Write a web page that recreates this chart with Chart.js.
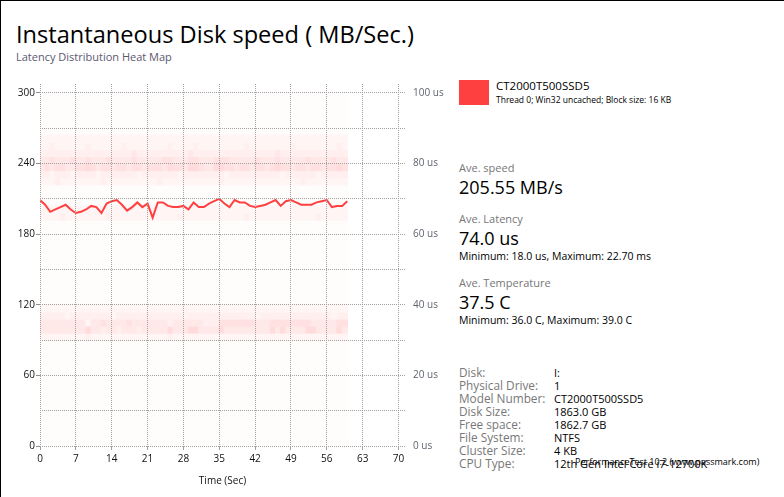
<!DOCTYPE html>
<html>
<head>
<meta charset="utf-8">
<script src="https://cdn.jsdelivr.net/npm/chart.js@4.4.0/dist/chart.umd.min.js"></script>
<style>
body { margin: 0; width: 784px; height: 497px; background: #fff; position: relative; overflow: hidden; font-family: "Open Sans", sans-serif; color: #000; }
#frame { position: absolute; left: 0; top: 0; width: 784px; height: 497px; border-left: 1px solid #000; border-top: 1px solid #000; box-sizing: border-box; }
#box { position: absolute; left: 0; top: 70px; width: 460px; height: 427px; }
.t { position: absolute; white-space: nowrap; line-height: 1; }
.lbl { color: #777; font-size: 11px; }
.big { font-size: 18px; }
.small { font-size: 10.5px; }
.k { color: #777; font-size: 11.8px; left: 459px; }
.v { color: #000; font-size: 11px; left: 554px; }
</style>
</head>
<body>
<div id="frame"></div>
<div class="t" style="left:16px;top:23px;font-size:23.6px;">Instantaneous Disk speed ( MB/Sec.)</div>
<div class="t" style="left:16px;top:51px;font-size:11px;color:#5c5870;">Latency Distribution Heat Map</div>

<div style="position:absolute;left:459px;top:80px;width:30px;height:25px;background:#ff4040;"></div>
<div class="t" style="left:496px;top:80px;font-size:11.5px;">CT2000T500SSD5</div>
<div class="t" style="left:496px;top:96px;font-size:8.5px;">Thread 0; Win32 uncached; Block size: 16 KB</div>

<div class="t lbl" style="left:459px;top:162px;">Ave. speed</div>
<div class="t big" style="left:459px;top:178px;">205.55 MB/s</div>
<div class="t lbl" style="left:459px;top:213px;">Ave. Latency</div>
<div class="t big" style="left:459px;top:229px;">74.0 us</div>
<div class="t small" style="left:459px;top:251px;">Minimum: 18.0 us, Maximum: 22.70 ms</div>
<div class="t lbl" style="left:459px;top:277px;">Ave. Temperature</div>
<div class="t big" style="left:459px;top:293px;">37.5 C</div>
<div class="t small" style="left:459px;top:315px;">Minimum: 36.0 C, Maximum: 39.0 C</div>

<div class="t k" style="top:367px;">Disk:</div><div class="t v" style="top:367px;">I:</div>
<div class="t k" style="top:380px;">Physical Drive:</div><div class="t v" style="top:380px;">1</div>
<div class="t k" style="top:393px;">Model Number:</div><div class="t v" style="top:393px;">CT2000T500SSD5</div>
<div class="t k" style="top:406px;">Disk Size:</div><div class="t v" style="top:406px;">1863.0 GB</div>
<div class="t k" style="top:419px;">Free space:</div><div class="t v" style="top:419px;">1862.7 GB</div>
<div class="t k" style="top:432px;">File System:</div><div class="t v" style="top:432px;">NTFS</div>
<div class="t k" style="top:445px;">Cluster Size:</div><div class="t v" style="top:445px;">4 KB</div>
<div class="t k" style="top:458px;">CPU Type:</div><div class="t v" style="top:458px;">12th Gen Intel Core i7-12700K</div>
<div class="t" style="left:575px;top:457px;font-size:9px;">PerformanceTest 10.2 (www.passmark.com)</div>

<div id="box"><canvas id="chart"></canvas></div>

<script>
// time axis (sec) and measured speed (MB/s)
const seconds = [0,1,2,3,4,5,6,7,8,9,10,11,12,13,14,15,16,17,18,19,20,21,22,23,24,25,26,27,28,29,30,
                 31,32,33,34,35,36,37,38,39,40,41,42,43,44,45,46,47,48,49,50,51,52,53,54,55,56,57,58,59,60];
const speedMBs = [209,205,199,201,203,205,201,198,199,201,204,203,198,206,208,209,205,200,203,207,203,
                  206,194,207,207,204,203,203,204,201,207,203,203,206,208,210,206,203,209,207,207,
                  204,203,204,205,207,209,204,208,209,207,205,205,205,207,208,209,203,204,204,208];

const xTicks = [0,7,14,21,28,35,42,49,56,63,70];
const speedGrid = [0,30,60,90,120,150,180,210,240,270,300];
const speedTicks = [0,60,120,180,240,300];
const latencyTicks = [0,20,40,60,80,100];

// latency heat map: one column per second, rows are 2 us bins, values = shade level
const heatSeconds = [0,1,2,3,4,5,6,7,8,9,10,11,12,13,14,15,16,17,18,19,20,21,22,23,24,25,26,27,28,29,
                     30,31,32,33,34,35,36,37,38,39,40,41,42,43,44,45,46,47,48,49,50,51,52,53,54,55,56,57,58,59];
const heatBackground = 0.45;
const heat86 = [1,1,1,1,1,1,1,1,1,1,1,1,1,1,1,1,1,1,1,1,1,1,1,1,1,1,1,1,1,1,1,1,1,1,1,1,1,1,1,1,1,1,1,1,1,1,1,1,1,1,1,1,1,1,1,1,1,1,1,1];
const heat84 = [1,1,2,1,1,1,1,1,1,2,1,1,1,1,1,1,2,1,1,1,1,1,1,1,1,2,1,1,1,1,2,1,1,1,1,1,1,1,1,1,2,1,1,1,1,1,1,1,1,2,1,1,1,1,1,1,1,1,2,1];
const heat82 = [2,2,2,2,2,2,2,2,2,2,2,2,2,2,2,2,2,2,3,2,2,2,2,2,2,2,2,2,2,3,2,2,2,2,2,2,2,2,2,2,2,2,2,2,2,2,3,2,2,2,2,2,2,2,2,2,2,2,2,2];
const heat80 = [3,3,4,3,3,3,4,3,3,4,3,3,3,4,3,3,3,3,4,3,3,3,3,3,4,4,3,3,3,4,4,3,3,3,4,4,4,3,3,3,3,3,4,3,3,3,4,3,3,3,3,3,4,3,3,3,3,4,3,3];
const heat78 = [3,4,3,4,4,3,3,4,4,5,4,3,4,4,3,4,4,3,4,4,3,4,4,4,3,5,4,4,3,5,5,4,3,3,5,5,4,4,3,4,4,3,4,4,3,4,5,4,4,3,4,4,3,4,4,3,4,4,5,4];
const heat76 = [2,2,1,2,2,2,1,2,2,2,2,1,2,2,2,2,2,2,2,1,2,2,2,2,2,2,2,1,2,2,2,2,2,2,2,2,1,2,2,2,2,2,2,2,2,2,2,1,2,2,2,2,2,2,1,2,2,2,2,2];
const heat74 = [1,1,1,2,1,1,1,1,1,1,1,1,2,1,1,1,1,1,1,1,1,1,1,2,1,1,1,1,1,1,1,1,1,1,1,2,1,1,1,1,1,1,1,1,1,1,1,1,1,1,1,2,1,1,1,1,1,1,1,1];
const heat66 = [1,1,1,1,1,1,1,1,1,1,1,1,1,1,1,1,1,1,1,1,1,1,1,1,1,1,1,1,1,1,1,1,1,1,1,1,1,1,1,1,1,1,1,1,1,1,1,1,1,1,1,1,1,1,1,1,1,1,1,1];
const heat64 = [1,1,1,1,2,1,1,1,1,1,1,1,1,2,1,1,1,1,1,1,1,1,1,1,1,1,1,2,1,1,1,1,1,1,1,1,1,1,1,1,2,1,1,1,1,1,1,1,1,1,1,1,1,1,2,1,1,1,1,1];
const heat38 = [1,1,1,1,1,1,1,1,1,1,1,1,1,1,1,1,1,1,1,1,1,1,1,1,1,1,1,1,1,1,1,1,1,1,1,1,1,1,1,1,1,1,1,1,1,1,1,1,1,1,1,1,1,1,1,1,1,1,1,1];
const heat36 = [2,2,2,2,2,1,2,2,2,2,2,2,2,2,1,2,2,2,2,2,2,2,2,2,2,2,2,2,1,2,2,2,2,2,2,2,2,2,2,2,2,2,1,2,2,2,2,2,2,2,2,2,2,2,2,2,2,1,2,2];
const heat34 = [3,3,3,3,3,3,3,3,3,1,3,3,4,3,3,3,3,4,3,3,3,3,3,3,3,2,3,3,3,3,3,3,2,2,2,4,4,4,4,4,4,4,3,3,3,4,4,4,4,4,4,4,4,3,3,3,3,3,4,4];
const heat32 = [3,3,3,3,3,3,3,3,3,5,3,3,2,3,3,2,3,3,3,2,3,3,3,3,3,5,3,3,3,5,5,3,3,3,3,5,3,3,3,3,3,3,3,3,3,5,3,5,3,3,3,3,5,5,3,3,3,3,5,3];
const heat30 = [1,1,1,1,1,1,1,1,1,2,1,1,1,1,1,1,1,1,1,1,1,1,1,1,1,2,1,1,1,1,1,1,1,1,1,1,1,1,1,1,1,1,1,1,1,1,1,1,1,1,1,1,1,1,1,1,1,1,1,1];

// opaque tint of #ff4040 over white, so slightly overlapping cells leave no seams
function shade(level) {
    var a = level * 0.035 + heatBackground * 0.035;
    var gb = Math.round(255 - a * (255 - 64));
    return 'rgb(255,' + gb + ',' + gb + ')';
}

function heatRow(lo, hi, levels) {
    return {
        type: 'bar',
        yAxisID: 'yLat',
        data: heatSeconds.map(function (s, i) {
            return { x: s + 0.5, y: [lo, hi], v: Array.isArray(levels) ? levels[i] : levels };
        }),
        backgroundColor: function (ctx) { return shade(ctx.raw ? ctx.raw.v : 0); },
        borderWidth: 0,
        inflateAmount: 0.6,
        grouped: false,
        categoryPercentage: 1,
        barPercentage: 1,
        order: 2
    };
}

var datasets = [
    {
        type: 'line',
        label: 'CT2000T500SSD5',
        yAxisID: 'y',
        data: seconds.map(function (s, i) { return { x: s, y: speedMBs[i] }; }),
        borderColor: '#ff4040',
        borderWidth: 2,
        pointRadius: 0,
        tension: 0,
        order: 0
    },
    heatRow(86, 88, heat86), heatRow(84, 86, heat84), heatRow(82, 84, heat82),
    heatRow(80, 82, heat80), heatRow(78, 80, heat78), heatRow(76, 78, heat76),
    heatRow(74, 76, heat74), heatRow(66, 68, heat66), heatRow(64, 66, heat64),
    heatRow(38, 40, heat38), heatRow(36, 38, heat36), heatRow(34, 36, heat34),
    heatRow(32, 34, heat32), heatRow(30, 32, heat30)
];
// background layer under every row
var bg = heatRow(0, 100, 0);
bg.order = 3;
datasets.push(bg);

Chart.defaults.font.family = "'Open Sans', sans-serif";
Chart.defaults.font.size = 10;

new Chart(document.getElementById('chart'), {
    type: 'bar',
    data: { datasets: datasets },
    options: {
        responsive: true,
        maintainAspectRatio: false,
        animation: false,
        layout: { padding: { top: 11, left: 0, right: 0, bottom: 0 } },
        plugins: { legend: { display: false }, tooltip: { enabled: false } },
        scales: {
            x: {
                type: 'linear',
                min: 0,
                max: 71.27,
                offset: false,
                afterBuildTicks: function (s) { s.ticks = xTicks.map(function (v) { return { value: v }; }); },
                afterFit: function (s) { s.height = 51; },
                ticks: { color: '#111', padding: 3, maxRotation: 0, autoSkip: false },
                grid: { color: '#a0a0a0', tickLength: 4, offset: false, tickColor: '#a0a0a0', z: 1 },
                border: { display: false, dash: [1, 1] },
                title: { display: true, text: 'Time (Sec)', color: '#111', font: { size: 10 }, padding: { top: 4, bottom: 10 } }
            },
            y: {
                type: 'linear',
                position: 'left',
                min: 0,
                max: 307.6,
                afterBuildTicks: function (s) { s.ticks = speedGrid.map(function (v) { return { value: v }; }); },
                afterFit: function (s) { s.width = 40; },
                ticks: {
                    color: '#111',
                    padding: 1,
                    autoSkip: false,
                    callback: function (v) { return speedTicks.indexOf(v) >= 0 ? String(v) : ''; }
                },
                grid: {
                    color: '#a0a0a0',
                    tickLength: 4,
                    z: 1,
                    tickColor: function (ctx) { return ctx.tick && speedTicks.indexOf(ctx.tick.value) >= 0 ? '#909090' : 'rgba(0,0,0,0)'; }
                },
                border: { display: false, dash: [1, 1] }
            },
            yLat: {
                type: 'linear',
                position: 'right',
                min: 0,
                max: 102.53,
                afterBuildTicks: function (s) { s.ticks = latencyTicks.map(function (v) { return { value: v }; }); },
                afterFit: function (s) { s.width = 55; },
                ticks: { color: '#5f6470', padding: 8, autoSkip: false, callback: function (v) { return v + ' us'; } },
                grid: { drawOnChartArea: false, drawTicks: false },
                border: { display: false }
            }
        }
    }
});
</script>
</body>
</html>
